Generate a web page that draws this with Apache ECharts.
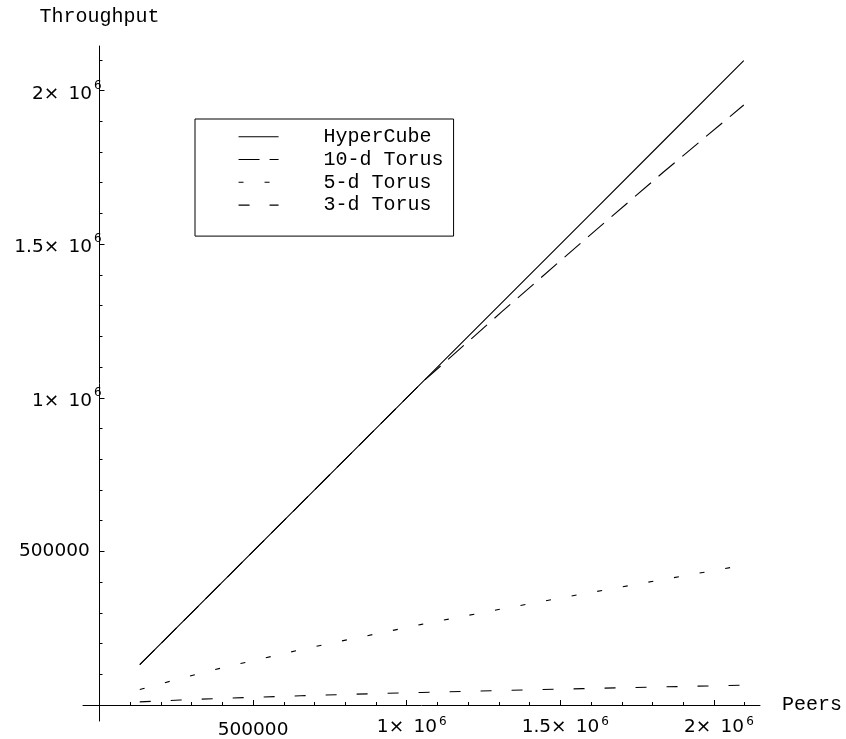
<!DOCTYPE html>
<html>
<head>
<meta charset="utf-8">
<script src="https://cdn.jsdelivr.net/npm/echarts@6/dist/echarts.min.js"></script>
<style>
html,body{margin:0;padding:0;background:#fff;}
#chart{width:846px;height:739px;}
</style>
</head>
<body>
<div id="chart"></div>
<script>
// ---- data ----
const seriesNames = ['HyperCube', '10-d Torus', '5-d Torus', '3-d Torus'];
const peers     = [131072, 262144, 393216, 524288, 655360, 786432, 917504, 1048576, 1310720, 1572864, 1835008, 2097152];
const hyperCube = [131072, 262144, 393216, 524288, 655360, 786432, 917504, 1048576, 1310720, 1572864, 1835008, 2097152];
const torus10   = [131072, 262144, 393216, 524288, 655360, 786432, 917504, 1048576, 1281000, 1509000, 1734000, 1953000];
const torus5    = [50500, 86000, 119500, 150000, 180000, 208000, 235000, 262500, 313000, 361500, 408500, 455000];
const torus3    = [10000, 16200, 21300, 25800, 30000, 33800, 37500, 40800, 47200, 53200, 59000, 64300];

// ---- ticks / tick labels ----
const majorTicks = [500000, 1000000, 1500000, 2000000];
const majorLabelBase = ['500000', '1\u00d7\u200210', '1.5\u00d7\u200210', '2\u00d7\u200210'];
const majorLabelExp  = ['', '6', '6', '6'];
const minorTicks = [100000, 200000, 300000, 400000, 600000, 700000, 800000, 900000,
                    1100000, 1200000, 1300000, 1400000, 1600000, 1700000, 1800000, 1900000, 2100000];

const X_MIN = -53700, X_MAX = 2150000;
const Y_MIN = -52100, Y_MAX = 2145000;

const SANS = 'DejaVu Sans';
const MONO = 'Liberation Mono';

function pairs(xs, ys) { return xs.map((x, i) => [x, ys[i]]); }

function yLabel(v) {
  const i = majorTicks.indexOf(v);
  if (i < 0) return '';
  if (!majorLabelExp[i]) return '{p|' + majorLabelBase[i] + '}';
  return '{b|' + majorLabelBase[i] + '}{s|' + majorLabelExp[i] + '}';
}
function xLabel(v) {
  const i = majorTicks.indexOf(v);
  if (i < 0) return '';
  if (!majorLabelExp[i]) return '{c|' + majorLabelBase[i] + '}';
  return '{bx|' + majorLabelBase[i] + '}{sx|' + majorLabelExp[i] + '}';
}

const yRich = {
  b: { fontFamily: SANS, fontSize: 18.5, color: '#000', lineHeight: 22, padding: [7, 0, 0, 0] },
  p: { fontFamily: SANS, fontSize: 18.5, color: '#000', lineHeight: 22, padding: [0, 12, 0, 0] },
  s: { fontFamily: SANS, fontSize: 12, color: '#000', lineHeight: 14, verticalAlign: 'top', padding: [0, 0, 14, 2] }
};
const xRich = {
  bx: { fontFamily: SANS, fontSize: 18.5, color: '#000', lineHeight: 22, padding: [0, 0, 0, 10] },
  c:  { fontFamily: SANS, fontSize: 18.5, color: '#000', lineHeight: 28 },
  sx: { fontFamily: SANS, fontSize: 12, color: '#000', lineHeight: 14, verticalAlign: 'top', padding: [0, 0, 14, 2] }
};

const axisLineStyle = { color: '#000', width: 1 };

const chart = echarts.init(document.getElementById('chart'), null, { renderer: 'canvas' });

const lineStyles = [
  { color: '#000', width: 1.1, type: 'solid' },
  { color: '#000', width: 1.1, type: [21, 10] },
  { color: '#000', width: 1.1, type: [5, 21] },
  { color: '#000', width: 1.1, type: [11, 20] }
];
const seriesData = [hyperCube, torus10, torus5, torus3];

chart.setOption({
  animation: false,
  backgroundColor: '#fff',
  grid: { left: 83, right: 86, top: 46, bottom: 18, containLabel: false, outerBoundsMode: 'none' },
  legend: {
    data: seriesNames,
    orient: 'vertical',
    left: 195,
    top: 119,
    itemWidth: 40,
    itemHeight: 14,
    itemGap: 2.8,
    padding: [7.7, 10, 21, 43],
    borderColor: '#000',
    borderWidth: 1,
    backgroundColor: '#fff',
    selectedMode: false,
    itemStyle: { color: 'rgba(0,0,0,0)', borderColor: 'rgba(0,0,0,0)', borderWidth: 0, opacity: 0 },
    lineStyle: { width: 1.1 },
    textStyle: { fontFamily: MONO, fontSize: 20, color: '#000', padding: [0, 0, 0, 40] }
  },
  xAxis: [
    {
      type: 'value', min: X_MIN, max: X_MAX,
      name: 'Peers', nameLocation: 'end', nameGap: 22,
      nameTextStyle: { fontFamily: MONO, fontSize: 20, color: '#000', verticalAlign: 'middle' },
      axisLine: { show: true, onZero: true, lineStyle: axisLineStyle },
      axisTick: { show: true, inside: true, length: 5, customValues: majorTicks, lineStyle: axisLineStyle },
      axisLabel: { show: true, margin: -5, customValues: majorTicks, formatter: xLabel, rich: xRich },
      splitLine: { show: false }
    },
    {
      type: 'value', min: X_MIN, max: X_MAX, position: 'bottom',
      axisLine: { show: false, onZero: true },
      axisTick: { show: true, inside: true, length: 3, customValues: minorTicks, lineStyle: axisLineStyle },
      axisLabel: { show: false },
      splitLine: { show: false }
    }
  ],
  yAxis: [
    {
      type: 'value', min: Y_MIN, max: Y_MAX,
      name: 'Throughput', nameLocation: 'end', nameGap: 29,
      nameTextStyle: { fontFamily: MONO, fontSize: 20, color: '#000', verticalAlign: 'middle', align: 'center' },
      axisLine: { show: true, onZero: true, lineStyle: axisLineStyle },
      axisTick: { show: true, inside: true, length: 5, customValues: majorTicks, lineStyle: axisLineStyle },
      axisLabel: { show: true, margin: -18.7, customValues: majorTicks, formatter: yLabel, rich: yRich },
      splitLine: { show: false }
    },
    {
      type: 'value', min: Y_MIN, max: Y_MAX, position: 'left',
      axisLine: { show: false, onZero: true },
      axisTick: { show: true, inside: true, length: 3, customValues: minorTicks, lineStyle: axisLineStyle },
      axisLabel: { show: false },
      splitLine: { show: false }
    }
  ],
  series: seriesNames.map((name, i) => ({
    name: name,
    type: 'line',
    xAxisIndex: 0,
    yAxisIndex: 0,
    data: pairs(peers, seriesData[i]),
    symbol: 'none',
    showSymbol: false,
    smooth: false,
    lineStyle: lineStyles[i],
    itemStyle: { color: '#000' },
    emphasis: { disabled: true },
    silent: true,
    z: 3
  }))
});
</script>
</body>
</html>
